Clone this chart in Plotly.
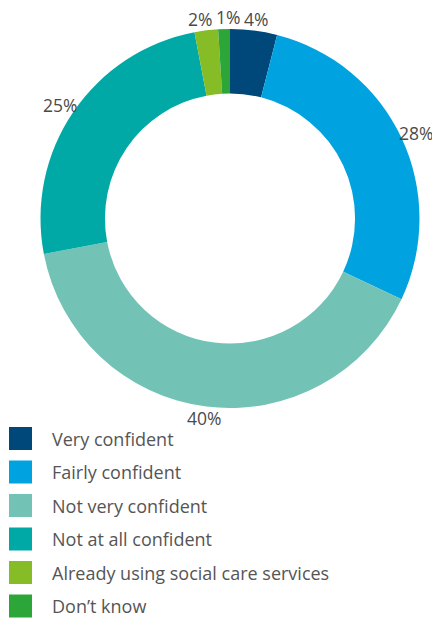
import math
import plotly.graph_objects as go

# Survey answers, clockwise from 12 o'clock
labels = ['Very confident', 'Fairly confident', 'Not very confident',
          'Not at all confident', 'Already using social care services', "Don’t know"]
values = [4, 28, 40, 25, 2, 1]
colors = ['#00487A', '#00A3E0', '#72C3B5', '#00A9A6', '#86BC25', '#2CA539']

W, H = 432, 619

# ring geometry in pixels
cx, cy, r = 230, 218.5, 189.5
pie_domain = dict(x=[(cx - r) / W, (cx + r) / W],
                  y=[1 - (cy + r) / H, 1 - (cy - r) / H])
label_font = dict(family='Open Sans', size=17.5, color='#4a4a4a')

fig = go.Figure()

fig.add_trace(go.Pie(
    labels=labels,
    values=values,
    marker=dict(colors=colors, line=dict(width=0)),
    hole=0.66,
    sort=False,
    direction='clockwise',
    rotation=0,
    textinfo='none',
    domain=pie_domain,
    showlegend=False,
    hoverinfo='label+percent',
))

# percentage labels just outside each slice
total = sum(values)
pos = []
acc = 0
for v in values:
    ang = math.radians((acc + v / 2) / total * 360)
    acc += v
    dx, dy = math.sin(ang), -math.cos(ang)
    txt = '%d%%' % v
    hw = len(txt) * 0.7 * label_font['size'] / 2
    px = cx + (r + 4) * dx + dx * 12
    py = cy + (r + 4) * dy + dy * 8
    pos.append([px, py, hw, txt])

# push apart labels that would collide along the top
order = sorted(range(len(pos)), key=lambda i: pos[i][0])
for _ in range(5):
    for a, b in zip(order, order[1:]):
        pa, pb = pos[a], pos[b]
        if abs(pa[1] - pb[1]) < 18:
            need = pa[2] + pb[2] + 3 - (pb[0] - pa[0])
            if need > 0:
                pa[0] -= need / 2
                pb[0] += need / 2

for px, py, hw, txt in pos:
    fig.add_annotation(text=txt, xref='paper', yref='paper',
                       x=px / W, y=1 - py / H, xanchor='center', yanchor='middle',
                       showarrow=False, font=label_font)

# Custom legend with large square swatches
y0, step = 438.5, 33.5
for i, (lab, col) in enumerate(zip(labels, colors)):
    yc = y0 + i * step
    fig.add_shape(type='rect', xref='paper', yref='paper',
                  x0=9 / W, x1=32 / W,
                  y0=1 - (yc + 11.5) / H, y1=1 - (yc - 11.5) / H,
                  fillcolor=col, line=dict(width=0))
    fig.add_annotation(text=lab, xref='paper', yref='paper',
                       x=50 / W, y=1 - yc / H, xanchor='left', yanchor='middle',
                       showarrow=False,
                       font=dict(family='Open Sans', size=18, color='#555555'))

fig.update_layout(
    width=W, height=H,
    margin=dict(l=0, r=0, t=0, b=0),
    paper_bgcolor='white',
    plot_bgcolor='white',
)

fig.write_html("out.html", config={'displayModeBar': False})

# drop the browser's default body margin so the figure sits at 0,0
with open("out.html", encoding="utf-8") as f:
    page = f.read()
page = page.replace("<body>", '<body style="margin:0;overflow:hidden">', 1)
with open("out.html", "w", encoding="utf-8") as f:
    f.write(page)
